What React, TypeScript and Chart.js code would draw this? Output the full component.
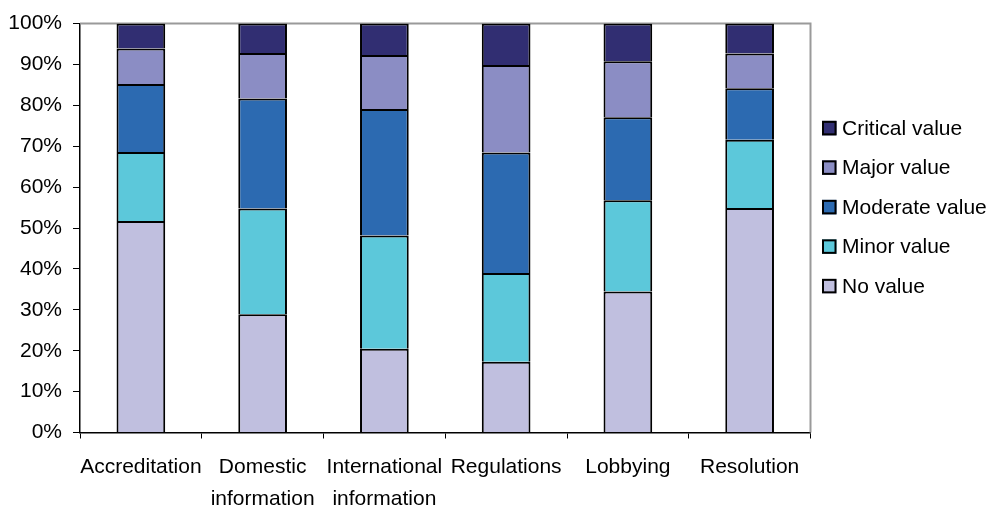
import React, { useEffect, useRef } from "react";
import { Chart, registerables } from "chart.js";

Chart.register(...registerables);

// Share of respondents rating each service, per value level (percent)
const categories: (string | string[])[] = [
  "Accreditation",
  ["Domestic", "information"],
  ["International", "information"],
  "Regulations",
  "Lobbying",
  "Resolution",
];

const noValue = [51.7, 28.9, 20.5, 17.3, 34.5, 54.9];
const minorValue = [16.9, 25.9, 27.7, 21.7, 22.3, 16.7];
const moderateValue = [16.6, 26.9, 30.9, 29.5, 20.3, 12.6];
const majorValue = [8.7, 11.1, 13.2, 21.4, 13.7, 8.5];
const criticalValue = [6.1, 7.2, 7.7, 10.1, 9.2, 7.3];

const yTicks = [0, 10, 20, 30, 40, 50, 60, 70, 80, 90, 100];

const FONT = '"Liberation Sans", Arial, sans-serif';

// Legend listed top-down from the last stacked series to the first,
// drawn to the right of the plot frame.
const sideLegend = {
  id: "sideLegend",
  afterDraw(chart: Chart) {
    const { ctx, chartArea } = chart;
    const boxX = chartArea.right + 11.5;
    const textX = chartArea.right + 31.5;
    const firstY = chartArea.top + 104.5;
    const step = 39.5;
    const size = 14.5;
    const items = chart.data.datasets.slice().reverse();
    ctx.save();
    ctx.font = `21px ${FONT}`;
    ctx.textBaseline = "middle";
    ctx.textAlign = "left";
    items.forEach((ds, i) => {
      const cy = firstY + i * step;
      ctx.fillStyle = ds.backgroundColor as string;
      ctx.fillRect(boxX, cy - size / 2, size, size);
      ctx.strokeStyle = "#000";
      ctx.lineWidth = 2;
      ctx.strokeRect(boxX + 1, cy - size / 2 + 1, size - 2, size - 2);
      ctx.fillStyle = "#000";
      ctx.fillText(ds.label as string, textX, cy + 1);
    });
    ctx.restore();
  },
};

// Grey frame along the top and right of the plot area.
const plotFrame = {
  id: "plotFrame",
  beforeDatasetsDraw(chart: Chart) {
    const { ctx, chartArea } = chart;
    ctx.save();
    ctx.strokeStyle = "#9a9a9a";
    ctx.lineWidth = 2;
    ctx.beginPath();
    ctx.moveTo(chartArea.left, chartArea.top);
    ctx.lineTo(chartArea.right, chartArea.top);
    ctx.lineTo(chartArea.right, chartArea.bottom);
    ctx.stroke();
    ctx.restore();
  },
};

export default function App() {
  const canvasRef = useRef<HTMLCanvasElement | null>(null);

  useEffect(() => {
    const canvas = canvasRef.current;
    if (!canvas) return;

    const series = [
      { label: "No value", data: noValue, color: "#c0bfdf" },
      { label: "Minor value", data: minorValue, color: "#5cc8da" },
      { label: "Moderate value", data: moderateValue, color: "#2c6ab1" },
      { label: "Major value", data: majorValue, color: "#8b8dc4" },
      { label: "Critical value", data: criticalValue, color: "#312e72" },
    ];

    const chart = new Chart(canvas, {
      type: "bar",
      data: {
        labels: categories,
        datasets: series.map((s) => ({
          label: s.label,
          data: s.data,
          backgroundColor: s.color,
          borderColor: "#000",
          borderWidth: 2,
          barPercentage: 0.4,
          categoryPercentage: 1,
        })),
      },
      options: {
        responsive: false,
        animation: false,
        layout: { padding: { top: 21, right: 178.5, bottom: 0, left: 0 } },
        plugins: {
          legend: { display: false },
          tooltip: { enabled: false },
        },
        scales: {
          x: {
            stacked: true,
            offset: true,
            grid: {
              offset: true,
              drawOnChartArea: false,
              drawTicks: true,
              tickLength: 6,
              color: "#000",
              lineWidth: 1,
            },
            border: { display: true, color: "#000", width: 1.5 },
            ticks: {
              color: "#000",
              padding: 13,
              maxRotation: 0,
              autoSkip: false,
              font: { family: FONT, size: 21, lineHeight: 1.5 },
            },
            afterFit: (scale: any) => {
              scale.height = 74.5;
            },
          },
          y: {
            stacked: true,
            min: 0,
            max: 100,
            afterBuildTicks: (scale: any) => {
              scale.ticks = yTicks.map((v) => ({ value: v }));
            },
            grid: {
              drawOnChartArea: false,
              drawTicks: true,
              tickLength: 7,
              color: "#000",
              lineWidth: 1,
            },
            border: { display: true, color: "#000", width: 1.5 },
            ticks: {
              color: "#000",
              padding: 11,
              font: { family: FONT, size: 21 },
              callback: (v: any) => `${v}%`,
            },
            afterFit: (scale: any) => {
              scale.width = 80;
            },
          },
        },
      },
      plugins: [plotFrame, sideLegend],
    });

    return () => chart.destroy();
  }, []);

  return (
    <div style={{ position: "absolute", left: 0, top: 0, width: 989, height: 507, background: "#fff" }}>
      <canvas ref={canvasRef} width={989} height={507} style={{ display: "block" }} />
    </div>
  );
}
